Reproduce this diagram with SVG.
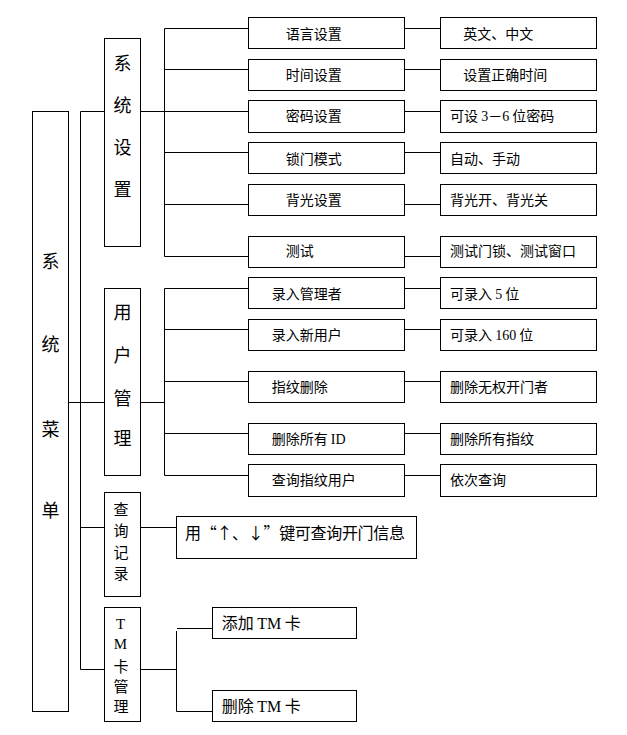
<svg xmlns="http://www.w3.org/2000/svg" width="627" height="735" viewBox="0 0 627 735">
<style>
rect{fill:#fff;stroke:#000;stroke-width:1}
line{stroke:#000;stroke-width:1}
text{font-family:"Noto Sans CJK SC","Liberation Sans",sans-serif;fill:#000}
.v{font-size:18px;text-anchor:middle}
.s{font-size:15px;text-anchor:middle}
.t{font-size:14px}
.m{font-size:16px}
.k{font-size:16px}
.r{font-family:"Liberation Serif",serif}
</style>
<rect width="627" height="735" style="stroke:none"/>
<g id="connectors">
<line x1="80.5" y1="111.5" x2="80.5" y2="669.5"/>
<line x1="80.5" y1="111.5" x2="104.5" y2="111.5"/>
<line x1="140.5" y1="111.5" x2="164.5" y2="111.5"/>
<line x1="68.5" y1="402.5" x2="104.5" y2="402.5"/>
<line x1="140.5" y1="402.5" x2="164.5" y2="402.5"/>
<line x1="80.5" y1="527.5" x2="104.5" y2="527.5"/>
<line x1="140.5" y1="527.5" x2="176.5" y2="527.5"/>
<line x1="80.5" y1="669.5" x2="104.5" y2="669.5"/>
<line x1="140.5" y1="669.5" x2="176.5" y2="669.5"/>
<line x1="164.5" y1="28.5" x2="164.5" y2="256.5"/>
<line x1="164.5" y1="28.5" x2="248.5" y2="28.5"/>
<line x1="164.5" y1="69.5" x2="248.5" y2="69.5"/>
<line x1="164.5" y1="111.5" x2="248.5" y2="111.5"/>
<line x1="164.5" y1="152.5" x2="248.5" y2="152.5"/>
<line x1="164.5" y1="204.5" x2="248.5" y2="204.5"/>
<line x1="164.5" y1="256.5" x2="248.5" y2="256.5"/>
<line x1="164.5" y1="288.5" x2="164.5" y2="475.5"/>
<line x1="164.5" y1="288.5" x2="248.5" y2="288.5"/>
<line x1="164.5" y1="329.5" x2="248.5" y2="329.5"/>
<line x1="164.5" y1="381.5" x2="248.5" y2="381.5"/>
<line x1="164.5" y1="433.5" x2="248.5" y2="433.5"/>
<line x1="164.5" y1="475.5" x2="248.5" y2="475.5"/>
<line x1="404.5" y1="28.5" x2="440.5" y2="28.5"/>
<line x1="404.5" y1="69.5" x2="440.5" y2="69.5"/>
<line x1="404.5" y1="111.5" x2="440.5" y2="111.5"/>
<line x1="404.5" y1="152.5" x2="440.5" y2="152.5"/>
<line x1="404.5" y1="204.5" x2="440.5" y2="204.5"/>
<line x1="404.5" y1="256.5" x2="440.5" y2="256.5"/>
<line x1="404.5" y1="288.5" x2="440.5" y2="288.5"/>
<line x1="404.5" y1="329.5" x2="440.5" y2="329.5"/>
<line x1="404.5" y1="381.5" x2="440.5" y2="381.5"/>
<line x1="404.5" y1="433.5" x2="440.5" y2="433.5"/>
<line x1="404.5" y1="475.5" x2="440.5" y2="475.5"/>
<line x1="176.5" y1="631" x2="176.5" y2="711.5"/>
<line x1="177" y1="628.5" x2="212.5" y2="628.5"/>
<line x1="176.5" y1="711.5" x2="212.5" y2="711.5"/>
</g>
<g id="menu">
<rect x="32.5" y="111.5" width="36" height="600"/>
<text class="v" x="50.5" y="268">系</text>
<text class="v" x="50.5" y="350.5">统</text>
<text class="v" x="50.5" y="435.5">菜</text>
<text class="v" x="50.5" y="517">单</text>
</g>
<g id="sys">
<rect x="104.5" y="38.5" width="36" height="208"/>
<text class="v" x="122.5" y="70.3">系</text>
<text class="v" x="122.5" y="111.5">统</text>
<text class="v" x="122.5" y="153.5">设</text>
<text class="v" x="122.5" y="196">置</text>
</g>
<g id="user">
<rect x="104.5" y="288.5" width="36" height="187"/>
<text class="v" x="122.5" y="319">用</text>
<text class="v" x="122.5" y="361.5">户</text>
<text class="v" x="122.5" y="404.5">管</text>
<text class="v" x="122.5" y="444.5">理</text>
</g>
<g id="query">
<rect x="104.5" y="492.5" width="36" height="104"/>
<text class="s" x="121" y="514.5">查</text>
<text class="s" x="121" y="536">询</text>
<text class="s" x="121" y="557.5">记</text>
<text class="s" x="121" y="578.5">录</text>
</g>
<g id="tm">
<rect x="104.5" y="607.5" width="36" height="114"/>
<text class="s r" x="120.5" y="628.5">T</text>
<text class="s r" x="120.5" y="648.5">M</text>
<text class="s" x="121" y="671.5">卡</text>
<text class="s" x="121" y="691.5">管</text>
<text class="s" x="121" y="712">理</text>
</g>
<g id="lang"><rect x="248.5" y="17.5" width="156" height="31"/><text class="t" x="285.7" y="38.5">语言设置</text></g>
<g id="time"><rect x="248.5" y="59.5" width="156" height="31"/><text class="t" x="285.7" y="79.7">时间设置</text></g>
<g id="pwd"><rect x="248.5" y="100.5" width="156" height="32"/><text class="t" x="285.7" y="121.4">密码设置</text></g>
<g id="lock"><rect x="248.5" y="142.5" width="156" height="31"/><text class="t" x="285.7" y="163.5">锁门模式</text></g>
<g id="back"><rect x="248.5" y="184.5" width="156" height="31"/><text class="t" x="285.7" y="204.9">背光设置</text></g>
<g id="test"><rect x="248.5" y="236.5" width="156" height="31"/><text class="t" x="285.7" y="256.4">测试</text></g>
<g id="admin"><rect x="248.5" y="277.5" width="156" height="31"/><text class="t" x="271.7" y="298.9">录入管理者</text></g>
<g id="newuser"><rect x="248.5" y="319.5" width="156" height="31"/><text class="t" x="271.7" y="339.9">录入新用户</text></g>
<g id="fpdel"><rect x="248.5" y="371.5" width="156" height="31"/><text class="t" x="271.7" y="391.9">指纹删除</text></g>
<g id="delid"><rect x="248.5" y="423.5" width="156" height="31"/><text class="t" x="271.7" y="443.5">删除所有 <tspan class="r">ID</tspan></text></g>
<g id="fpquery"><rect x="248.5" y="464.5" width="156" height="32"/><text class="t" x="271.7" y="485.2">查询指纹用户</text></g>
<g id="lang-v"><rect x="440.5" y="17.5" width="156" height="31"/><text class="t" x="463.3" y="38.5">英文、中文</text></g>
<g id="time-v"><rect x="440.5" y="59.5" width="156" height="31"/><text class="t" x="463.3" y="79.7">设置正确时间</text></g>
<g id="pwd-v"><rect x="440.5" y="100.5" width="156" height="32"/><text class="t" x="450" y="121.4">可设 <tspan class="r">3</tspan>－<tspan class="r">6</tspan> 位密码</text></g>
<g id="lock-v"><rect x="440.5" y="142.5" width="156" height="31"/><text class="t" x="450" y="163.5">自动、手动</text></g>
<g id="back-v"><rect x="440.5" y="184.5" width="156" height="31"/><text class="t" x="450" y="204.9">背光开、背光关</text></g>
<g id="test-v"><rect x="440.5" y="236.5" width="156" height="31"/><text class="t" x="450" y="256.4">测试门锁、测试窗口</text></g>
<g id="admin-v"><rect x="440.5" y="277.5" width="156" height="31"/><text class="t" x="450" y="298.9">可录入 <tspan class="r">5</tspan> 位</text></g>
<g id="newuser-v"><rect x="440.5" y="319.5" width="156" height="31"/><text class="t" x="450" y="339.9">可录入 <tspan class="r">160</tspan> 位</text></g>
<g id="fpdel-v"><rect x="440.5" y="371.5" width="156" height="31"/><text class="t" x="450" y="391.9">删除无权开门者</text></g>
<g id="delid-v"><rect x="440.5" y="423.5" width="156" height="31"/><text class="t" x="450" y="443.5">删除所有指纹</text></g>
<g id="fpquery-v"><rect x="440.5" y="464.5" width="156" height="32"/><text class="t" x="450" y="485.2">依次查询</text></g>
<g id="query-v"><rect x="176.5" y="516.5" width="240" height="42"/><text class="m" x="185" y="538.5" textLength="220" lengthAdjust="spacing">用“↑、↓”键可查询开门信息</text></g>
<g id="tm-add"><rect x="212.5" y="607.5" width="144" height="31"/><text class="k" x="221.7" y="628.5">添加 <tspan class="r">TM</tspan> 卡</text></g>
<g id="tm-del"><rect x="212.5" y="690.5" width="144" height="31"/><text class="k" x="221.7" y="711.5">删除 <tspan class="r">TM</tspan> 卡</text></g>
</svg>
